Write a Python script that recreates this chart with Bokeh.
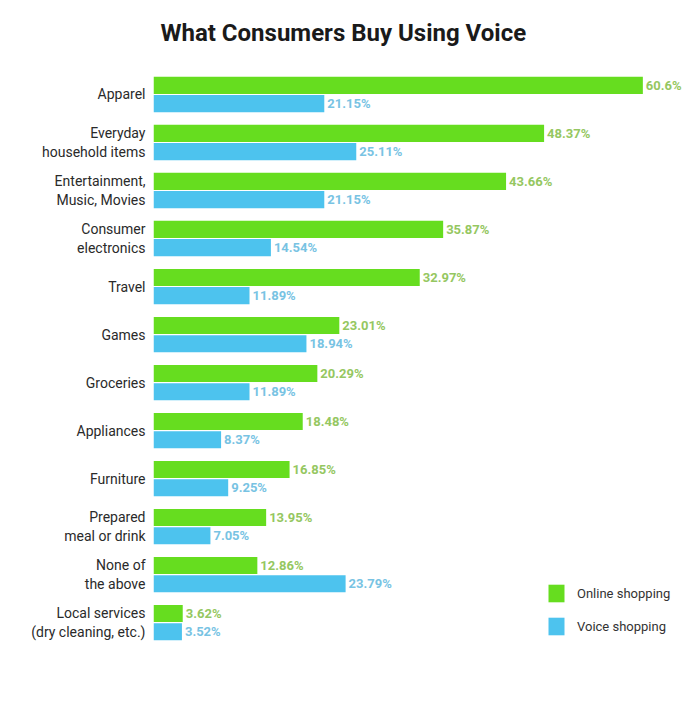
from bokeh.plotting import figure
from bokeh.models import Range1d, FixedTicker, ColumnDataSource, Legend, LegendItem
from bokeh.core.properties import value
from bokeh.embed import file_html
from bokeh.resources import INLINE

categories = ["Apparel", "Everyday\nhousehold items", "Entertainment,\nMusic, Movies",
              "Consumer\nelectronics", "Travel", "Games", "Groceries", "Appliances",
              "Furniture", "Prepared\nmeal or drink", "None of\nthe above",
              "Local services\n(dry cleaning, etc.)"]
online = [60.6, 48.37, 43.66, 35.87, 32.97, 23.01, 20.29, 18.48, 16.85, 13.95, 12.86, 3.62]
voice = [21.15, 25.11, 21.15, 14.54, 11.89, 18.94, 11.89, 8.37, 9.25, 7.05, 23.79, 3.52]
online_labels = ["60.6%", "48.37%", "43.66%", "35.87%", "32.97%", "23.01%", "20.29%",
                 "18.48%", "16.85%", "13.95%", "12.86%", "3.62%"]
voice_labels = ["21.15%", "25.11%", "21.15%", "14.54%", "11.89%", "18.94%", "11.89%",
                "8.37%", "9.25%", "7.05%", "23.79%", "3.52%"]

GREEN = "#66dd1f"
BLUE = "#4dc3ee"
FONT = "Roboto"

idx = list(range(len(categories)))
off = 0.19
src_o = ColumnDataSource(dict(y=[i - off for i in idx], v=online, t=online_labels))
src_v = ColumnDataSource(dict(y=[i + off for i in idx], v=voice, t=voice_labels))

p = figure(width=690, height=721, output_backend="svg", toolbar_location=None,
           x_range=Range1d(0, 66.5), y_range=Range1d(11.79, -0.708),
           min_border_left=153, min_border_right=0, min_border_top=60, min_border_bottom=61,
           title="What Consumers Buy Using Voice")
p.title.text_font = FONT
p.title.text_font_size = "24px"
p.title.text_font_style = "bold"
p.title.text_color = "#1a1a1a"
p.title.align = "left"
p.title.offset = 7
p.title.standoff = 27

r_o = p.hbar(y="y", right="v", left=0, height=0.355, source=src_o, color=GREEN, line_color=None)
r_v = p.hbar(y="y", right="v", left=0, height=0.355, source=src_v, color=BLUE, line_color=None)

p.text(x="v", y="y", text="t", source=src_o, x_offset=3, text_baseline="middle",
       text_font=value(FONT), text_font_size="13px", text_font_style="bold",
       text_color="#95c761")
p.text(x="v", y="y", text="t", source=src_v, x_offset=3, text_baseline="middle",
       text_font=value(FONT), text_font_size="13px", text_font_style="bold",
       text_color="#78c3e3")

p.xaxis.visible = False
p.xgrid.visible = False
p.ygrid.visible = False
p.outline_line_color = None
ya = p.yaxis[0]
ya.ticker = FixedTicker(ticks=idx)
ya.major_label_overrides = {i: c for i, c in zip(idx, categories)}
ya.axis_line_color = None
ya.major_tick_line_color = None
ya.minor_tick_line_color = None
ya.major_label_text_font = FONT
ya.major_label_text_font_size = "14px"
ya.major_label_text_color = "#2a2a2a"
ya.major_label_standoff = 2

legend = Legend(items=[LegendItem(label="Online shopping", renderers=[r_o]),
                       LegendItem(label="Voice shopping", renderers=[r_v])],
                location=(393, 23), glyph_width=20, glyph_height=22, spacing=11,
                padding=0, margin=0, border_line_color=None, background_fill_alpha=0,
                label_text_font=FONT, label_text_font_size="13px", label_text_color="#333333",
                label_standoff=11)
p.add_layout(legend, "center")

open("out.html", "w").write(file_html(p, INLINE))
